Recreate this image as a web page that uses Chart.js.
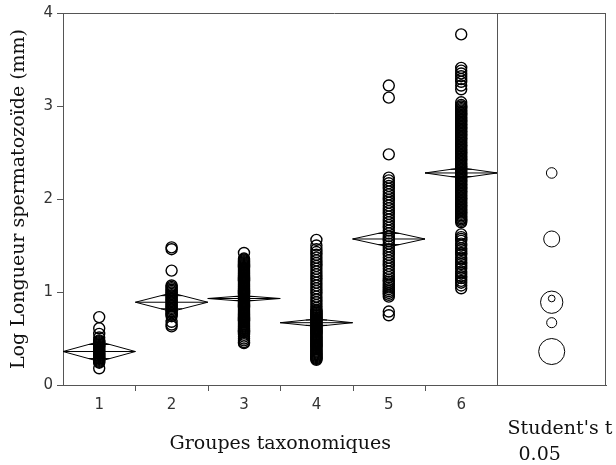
<!DOCTYPE html>
<html>
<head>
<meta charset="utf-8">
<script src="https://cdn.jsdelivr.net/npm/chart.js@4.4.1/dist/chart.umd.min.js"></script>
<style>
  html, body { margin: 0; padding: 0; background: #fff; }
  #wrap { width: 616px; height: 465px; }
</style>
</head>
<body>
<div id="wrap"><canvas id="chart" width="616" height="465"></canvas></div>
<script>
// groupes taxonomiques
const groups = ['1', '2', '3', '4', '5', '6'];

// valeurs individuelles (log longueur, mm)
const g1 = [0.73, 0.61, 0.55, 0.51, 0.48, 0.47, 0.46, 0.45, 0.44, 0.43, 0.42, 0.41, 0.40, 0.39, 0.38, 0.37, 0.36,
            0.35, 0.34, 0.33, 0.32, 0.31, 0.30, 0.29, 0.28, 0.27, 0.26, 0.25, 0.24, 0.18];
const g2 = [1.48, 1.46, 1.23, 1.07, 1.055, 1.04, 1.025, 1.01, 0.995, 0.98, 0.965, 0.95, 0.935, 0.92, 0.905, 0.89,
            0.875, 0.86, 0.845, 0.83, 0.815, 0.80, 0.785, 0.77, 0.755, 0.74, 0.68, 0.65, 0.63];
const g3 = [1.42, 1.36, 1.35, 1.34, 1.33, 1.32, 1.31, 1.30, 1.29, 1.28, 1.27, 1.26, 1.25, 1.24, 1.23, 1.22, 1.21,
            1.20, 1.19, 1.18, 1.17, 1.16, 1.15, 1.14, 1.13, 1.12, 1.11, 1.10, 1.09, 1.08, 1.07, 1.06, 1.05, 1.04,
            1.03, 1.02, 1.01, 1.00, 0.99, 0.98, 0.97, 0.96, 0.95, 0.94, 0.93, 0.92, 0.91, 0.90, 0.89, 0.88, 0.87,
            0.86, 0.85, 0.84, 0.83, 0.82, 0.81, 0.80, 0.79, 0.78, 0.77, 0.76, 0.75, 0.74, 0.73, 0.72, 0.71, 0.70,
            0.69, 0.68, 0.67, 0.66, 0.65, 0.64, 0.63, 0.62, 0.61, 0.60, 0.59, 0.58, 0.57, 0.56, 0.54, 0.52, 0.50,
            0.48, 0.46, 0.45];
const g4 = [1.56, 1.50, 1.46, 1.43, 1.40, 1.37, 1.34, 1.31, 1.28, 1.25, 1.22, 1.19, 1.16, 1.13, 1.10, 1.07, 1.04,
            1.01, 0.98, 0.95, 0.92, 0.89, 0.86, 0.83, 0.81, 0.80, 0.79, 0.78, 0.77, 0.76, 0.75, 0.74, 0.73, 0.72,
            0.71, 0.70, 0.69, 0.68, 0.67, 0.66, 0.65, 0.64, 0.63, 0.62, 0.61, 0.60, 0.59, 0.58, 0.57, 0.56, 0.55,
            0.54, 0.53, 0.52, 0.51, 0.50, 0.49, 0.48, 0.47, 0.46, 0.45, 0.44, 0.43, 0.42, 0.41, 0.40, 0.39, 0.38,
            0.37, 0.36, 0.35, 0.34, 0.33, 0.32, 0.31, 0.30, 0.29, 0.28, 0.27];
const g5 = [3.22, 3.09, 2.48, 2.23, 2.20, 2.17, 2.14, 2.11, 2.08, 2.05, 2.02, 1.99, 1.96, 1.93, 1.90, 1.87, 1.84,
            1.81, 1.78, 1.75, 1.72, 1.69, 1.66, 1.63, 1.60, 1.57, 1.55, 1.52, 1.49, 1.46, 1.43, 1.40, 1.37, 1.34,
            1.31, 1.28, 1.25, 1.22, 1.19, 1.16, 1.13, 1.11, 1.09, 1.07, 1.05, 1.03, 1.01, 0.99, 0.97, 0.95, 0.79,
            0.75];
const g6 = [3.77, 3.41, 3.38, 3.35, 3.32, 3.29, 3.26, 3.22, 3.18, 3.04, 3.01, 2.995, 2.98, 2.965, 2.95, 2.935, 2.92,
            2.905, 2.89, 2.875, 2.86, 2.845, 2.83, 2.815, 2.80, 2.785, 2.77, 2.755, 2.74, 2.725, 2.71, 2.695, 2.68,
            2.665, 2.65, 2.635, 2.62, 2.605, 2.59, 2.575, 2.56, 2.545, 2.53, 2.515, 2.50, 2.485, 2.47, 2.455, 2.44,
            2.425, 2.41, 2.395, 2.38, 2.365, 2.35, 2.335, 2.32, 2.305, 2.29, 2.275, 2.26, 2.245, 2.23, 2.215, 2.20,
            2.185, 2.17, 2.155, 2.14, 2.125, 2.11, 2.095, 2.08, 2.065, 2.05, 2.035, 2.02, 2.005, 1.99, 1.975, 1.96,
            1.945, 1.93, 1.915, 1.90, 1.885, 1.87, 1.855, 1.84, 1.825, 1.81, 1.795, 1.78, 1.765, 1.75, 1.62, 1.59,
            1.57, 1.55, 1.52, 1.50, 1.47, 1.45, 1.42, 1.40, 1.37, 1.35, 1.32, 1.30, 1.27, 1.25, 1.22, 1.20, 1.17,
            1.15, 1.12, 1.10, 1.07, 1.04];
const values = [g1, g2, g3, g4, g5, g6];

// moyennes et demi-largeurs des intervalles de confiance (losanges)
const means = [0.36, 0.89, 0.93, 0.67, 1.57, 2.28];
const diamondHalf = [0.107, 0.10, 0.03, 0.04, 0.085, 0.055];
// rayons des cercles de comparaison (Student's t, 0.05)
const circleRadius = [0.14, 0.12, 0.036, 0.054, 0.086, 0.057];

const yTicks = [0, 1, 2, 3, 4];

const datasets = values.map((vals, i) => ({
    label: 'Groupe ' + groups[i],
    data: vals.map(v => ({ x: i + 1, y: v })),
    pointRadius: 5.5,
    pointHoverRadius: 5.5,
    pointBorderWidth: 1.4,
    pointBorderColor: '#000',
    pointBackgroundColor: 'rgba(0,0,0,0)',
    showLine: false
}));

const INK = '#111';
const FRAME = '#555';
const SERIF = '19px "DejaVu Serif"';

// losanges, cercles de comparaison, cadre et textes
const extras = {
    id: 'extras',
    beforeDatasetsDraw(chart) {
        const { ctx, scales: { x, y } } = chart;
        ctx.save();
        ctx.strokeStyle = '#000';
        ctx.lineWidth = 1;
        means.forEach((m, i) => {
            const c = i + 1;
            const xl = x.getPixelForValue(c - 0.5), xc = x.getPixelForValue(c), xr = x.getPixelForValue(c + 0.5);
            const ym = y.getPixelForValue(m);
            const yt = y.getPixelForValue(m + diamondHalf[i]), yb = y.getPixelForValue(m - diamondHalf[i]);
            ctx.beginPath();
            ctx.moveTo(xl, ym); ctx.lineTo(xc, yt); ctx.lineTo(xr, ym); ctx.lineTo(xc, yb); ctx.closePath();
            ctx.moveTo(xl, ym); ctx.lineTo(xr, ym);
            // marques de chevauchement
            const k = diamondHalf[i] / Math.SQRT2;
            const w = (xr - xl) / 2 * (1 - 1 / Math.SQRT2);
            [m + k, m - k].forEach(v => {
                const yy = y.getPixelForValue(v);
                ctx.moveTo(xc - w, yy); ctx.lineTo(xc + w, yy);
            });
            ctx.stroke();
        });
        ctx.restore();
    },
    afterDatasetsDraw(chart) {
        const { ctx, chartArea: a, scales: { x, y } } = chart;
        ctx.save();
        // cadre
        ctx.strokeStyle = FRAME;
        ctx.lineWidth = 1;
        ctx.beginPath();
        ctx.moveTo(a.left, a.top + 0.5); ctx.lineTo(a.right, a.top + 0.5);
        ctx.moveTo(a.right - 0.5, a.top); ctx.lineTo(a.right - 0.5, a.bottom);
        const xd = Math.round(x.getPixelForValue(groups.length + 0.5)) + 0.5;
        ctx.moveTo(xd, a.top); ctx.lineTo(xd, a.bottom);
        // graduations entre groupes
        for (let i = 1; i < groups.length; i++) {
            const xt = Math.round(x.getPixelForValue(i + 0.5)) + 0.5;
            ctx.moveTo(xt, a.bottom); ctx.lineTo(xt, a.bottom + 6);
        }
        ctx.stroke();

        // cercles de comparaison
        ctx.strokeStyle = '#000';
        const xc = x.getPixelForValue(7.25);
        means.forEach((m, i) => {
            const r = y.getPixelForValue(0) - y.getPixelForValue(circleRadius[i]);
            ctx.beginPath();
            ctx.arc(xc, y.getPixelForValue(m), r, 0, Math.PI * 2);
            ctx.stroke();
        });

        // textes
        ctx.fillStyle = INK;
        ctx.font = SERIF;
        ctx.textAlign = 'center';
        ctx.textBaseline = 'alphabetic';
        const xm = (x.getPixelForValue(0.5) + x.getPixelForValue(groups.length + 0.5)) / 2;
        ctx.fillText('Groupes taxonomiques', xm, 449);
        ctx.textAlign = 'left';
        ctx.fillText("Student's t", xd + 10, 434);
        ctx.fillText('0.05', xd + 21, 460);
        ctx.restore();
    }
};

new Chart(document.getElementById('chart'), {
    type: 'scatter',
    data: { datasets },
    options: {
        responsive: false,
        animation: false,
        devicePixelRatio: 1,
        layout: { padding: { top: 12, right: 10, left: 0, bottom: 0 } },
        plugins: { legend: { display: false }, tooltip: { enabled: false } },
        scales: {
            x: {
                type: 'linear',
                min: 0.5,
                max: 8.0,
                afterBuildTicks: s => { s.ticks = groups.map((g, i) => ({ value: i + 1 })); },
                afterFit: s => { s.height = 80; },
                grid: { display: false },
                border: { display: true, color: FRAME },
                ticks: {
                    autoSkip: false,
                    maxRotation: 0,
                    padding: 3,
                    color: '#333',
                    font: { family: 'DejaVu Sans', size: 15 },
                    callback: v => groups[v - 1] ?? ''
                }
            },
            y: {
                min: 0,
                max: 4,
                afterBuildTicks: s => { s.ticks = yTicks.map(v => ({ value: v })); },
                afterFit: s => { s.width = 63; },
                grid: { drawOnChartArea: false, tickLength: 6, color: FRAME },
                border: { display: true, color: FRAME },
                ticks: {
                    padding: 4,
                    color: '#333',
                    font: { family: 'DejaVu Sans', size: 15 }
                },
                title: {
                    display: true,
                    text: 'Log Longueur spermatozoïde (mm)',
                    color: INK,
                    font: { family: 'DejaVu Serif', size: 19 },
                    padding: { top: 8, bottom: 0 }
                }
            }
        }
    },
    plugins: [extras]
});
</script>
</body>
</html>
